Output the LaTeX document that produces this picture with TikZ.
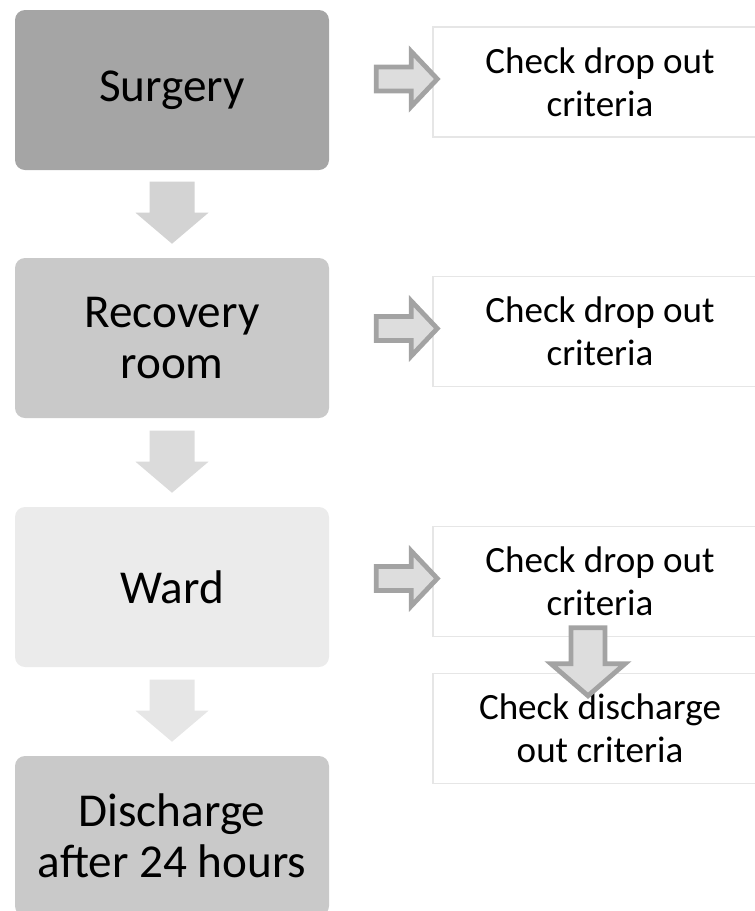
\documentclass[tikz,border=0pt]{standalone}
\usepackage{fontspec}
\setmainfont{Carlito}
\usetikzlibrary{calc}
\definecolor{cSurg}{HTML}{A5A5A5}
\definecolor{cRec}{HTML}{C9C9C9}
\definecolor{cWard}{HTML}{EBEBEB}
\definecolor{cDis}{HTML}{C9C9C9}
\definecolor{aOne}{HTML}{D3D3D3}
\definecolor{aTwo}{HTML}{DBDBDB}
\definecolor{aThree}{HTML}{E6E6E6}
\definecolor{rFill}{HTML}{DDDDDD}
\definecolor{rLine}{HTML}{A3A3A3}
\definecolor{cBorder}{HTML}{E6E6E6}
\tikzset{
  x=0.75pt, y=-0.75pt,
  stage/.style={rectangle, rounded corners=7.5pt, minimum width=235.5pt, minimum height=120pt,
    align=center, inner sep=0pt, font=\fontsize{35.4pt}{38.5pt}\selectfont},
  check/.style={rectangle, draw=cBorder, line width=1.1pt, fill=white, minimum width=250.5pt,
    minimum height=82.5pt, align=center, inner sep=0pt, font=\fontsize{27.8pt}{32.25pt}\selectfont},
  bigdown/.pic={\fill[pic actions] (-22.5,-62) -- (22.5,-62) -- (22.5,-31) -- (36.5,-31) -- (0,0)
      -- (-36.5,-31) -- (-22.5,-31) -- cycle;},
  smallright/.pic={\filldraw[pic actions] (-61,-12) -- (-26,-12) -- (-26,-27.5) -- (0,0)
      -- (-26,27.5) -- (-26,12) -- (-61,12) -- cycle;},
  smalldown/.pic={\filldraw[pic actions] (-17,-68) -- (17,-68) -- (17,-32) -- (37,-32) -- (0,0)
      -- (-37,-32) -- (-17,-32) -- cycle;},
  outlinearrow/.style={fill=rFill, draw=rLine, line width=3.6pt, miter limit=10}
}
\begin{document}
\begin{tikzpicture}
\useasboundingbox (0,0) rectangle (755,911);
\begin{scope}
\clip (0,0) rectangle (755,911);
% left stages
\node[stage, fill=cSurg] (s1) at (172,90) {Surgery};
\node[stage, fill=cRec] (s2) at (172,338) {Recovery\\room};
\node[stage, fill=cWard] (s3) at (172,587) {Ward};
\node[stage, fill=cDis] (s4) at (172,836) {Discharge\\after 24 hours};
% right checks
\node[check] (c1) at (600,82) {Check drop out\\criteria};
\node[check] (c2) at (600,331.5) {Check drop out\\criteria};
\node[check] (c3) at (600,581.5) {Check drop out\\criteria};
\node[check] (c4) at (600,728.5) {Check discharge\\out criteria};
% down arrows between stages
\pic[fill=aOne] at ($(s2.north)+(0,-14)$) {bigdown};
\pic[fill=aTwo] at ($(s3.north)+(0,-14)$) {bigdown};
\pic[fill=aThree] at ($(s4.north)+(0,-14)$) {bigdown};
% right arrows
\pic[outlinearrow] at ($(c1.west)+(5,-3)$) {smallright};
\pic[outlinearrow] at ($(c2.west)+(5,-3)$) {smallright};
\pic[outlinearrow] at ($(c3.west)+(5,-3)$) {smallright};
% down arrow between checks
\pic[outlinearrow] at ($(c4.north)+(-12,23)$) {smalldown};
\end{scope}
\end{tikzpicture}
\end{document}
